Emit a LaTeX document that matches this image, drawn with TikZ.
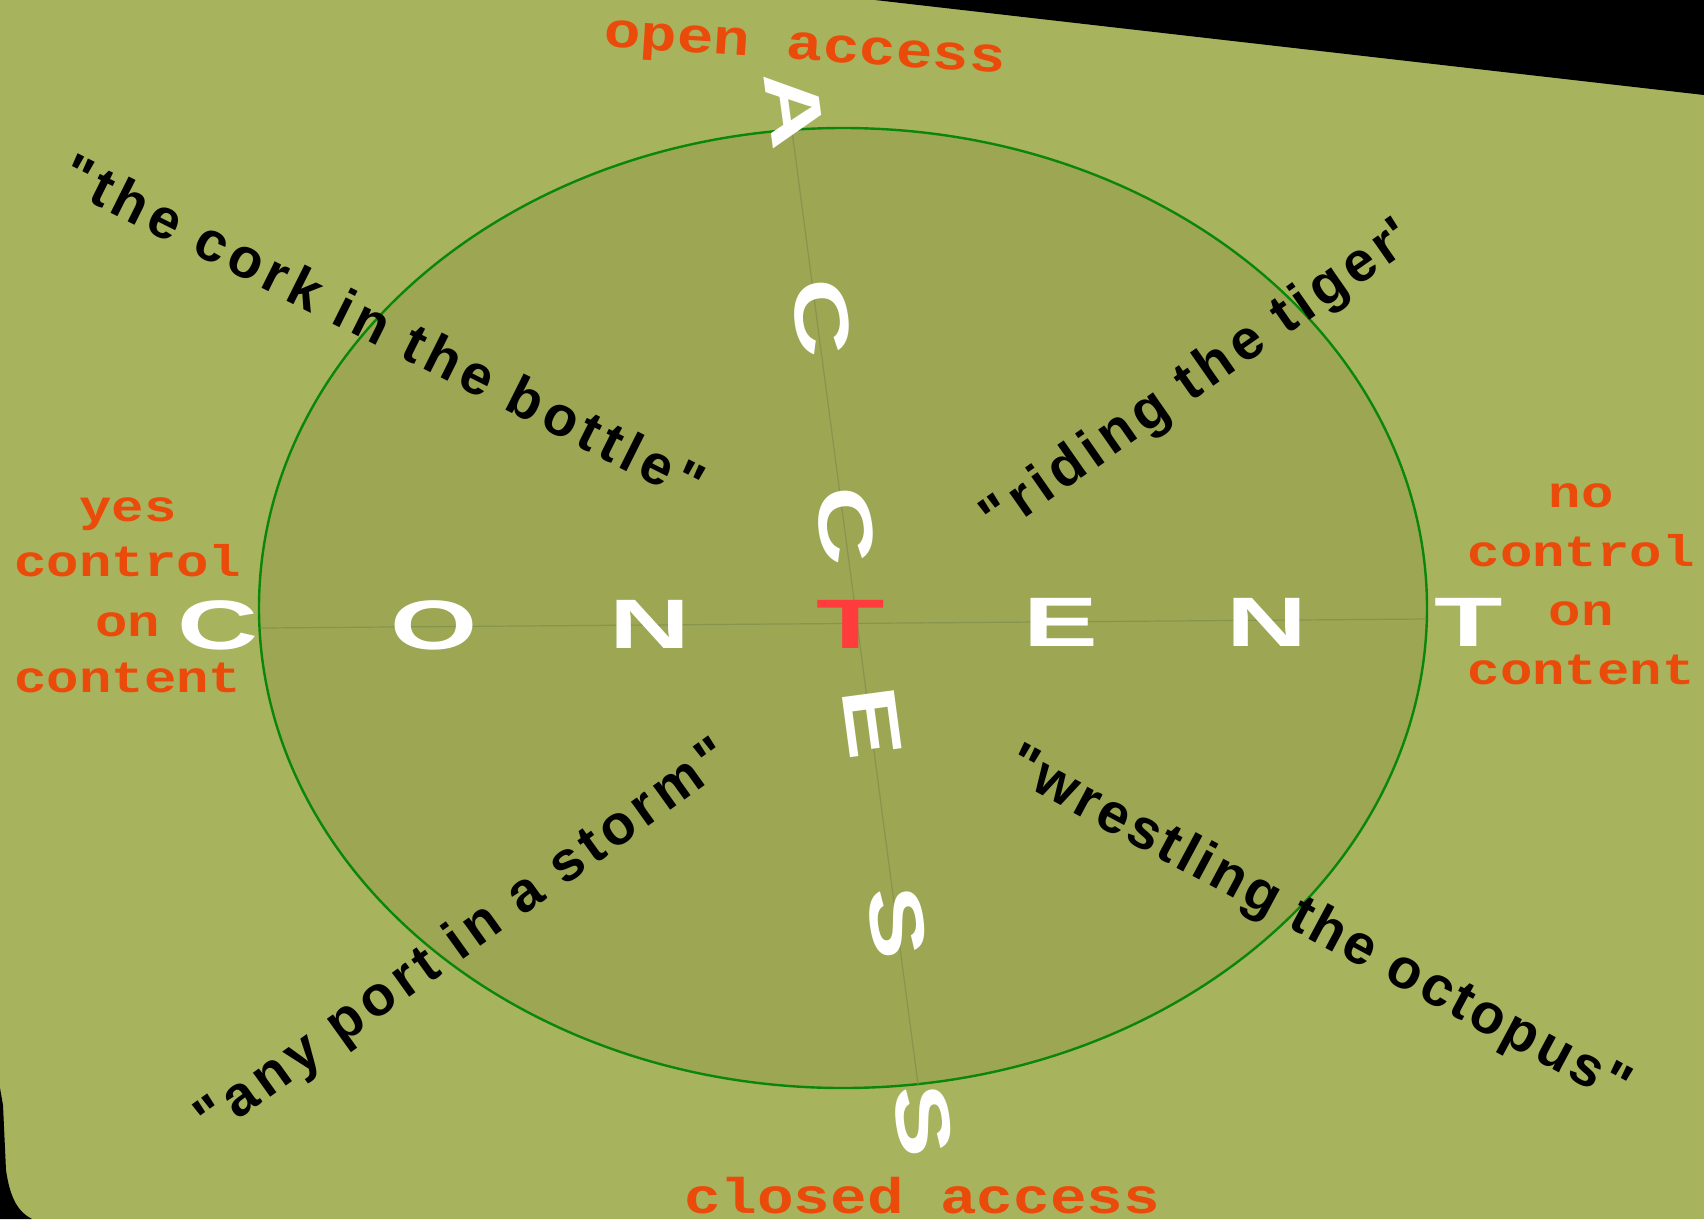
\documentclass[tikz,border=0pt]{standalone}
\usepackage{fontspec}
\setmainfont{Liberation Sans}
\newfontfamily\labelmono{Liberation Mono}
\newfontfamily\lettersans{Liberation Sans}
\usetikzlibrary{shapes.geometric}
\definecolor{bg}{RGB}{168,179,94}
\definecolor{ellfill}{RGB}{157,166,82}
\definecolor{ringgreen}{RGB}{10,135,10}
\definecolor{axisline}{RGB}{135,148,78}
\definecolor{labelorange}{RGB}{235,75,10}
\definecolor{centred}{RGB}{255,60,60}
\tikzset{
  bigletter/.style={text=white, inner sep=0pt, font=\lettersans\bfseries\fontsize{70}{70}\selectfont},
  vletter/.style={text=white, inner sep=0pt, rotate=-82.4, font=\lettersans\bfseries\fontsize{76}{76}\selectfont},
  sidelabel/.style={text=labelorange, inner sep=0pt, anchor=base, font=\labelmono\bfseries\fontsize{54}{54}\selectfont},
  endlabel/.style={text=labelorange, inner sep=0pt, anchor=base, font=\labelmono\bfseries\fontsize{61}{61}\selectfont},
  saying/.style={text=black, inner sep=0pt, anchor=base, font=\lettersans\bfseries\fontsize{56}{56}\selectfont},
  axis/.style={draw=axisline, line width=1.2pt},
}
\newcommand{\wideH}[1]{\scalebox{1.6}[1]{#1}}
\newcommand{\wideV}[1]{\scalebox{1.42}[1]{#1}}
\newcommand{\lowmono}[1]{\scalebox{1}[0.82]{#1}}
\begin{document}
\begin{tikzpicture}[x=1pt,y=-1pt]
\useasboundingbox (0,0) rectangle (1704,1219);
\fill[bg] (0,0) rectangle (1704,1219);
\fill[black] (875,0) -- (1704,0) -- (1704,95) -- cycle;
\fill[black] (0,1088) -- (3,1105) -- (6,1170) .. controls (10,1198) and (18,1212) .. (32,1219) -- (0,1219) -- cycle;

\node[ellipse, draw=ringgreen, fill=ellfill, line width=2.4pt, minimum width=1168pt, minimum height=960pt, inner sep=0pt] (ring) at (843,608) {};

\coordinate (hl) at (261,628);
\coordinate (hr) at (1426,619);
\coordinate (vt) at (792,131);
\coordinate (vb) at (918,1084);
\draw[axis] (hl) -- (hr);
\draw[axis] (vt) -- (vb);

% CONTENT
\node[bigletter] (c1) at (218,625) {\wideH{C}};
\node[bigletter] (c2) at (434,625) {\wideH{O}};
\node[bigletter] (c3) at (650,624) {\wideH{N}};
\node[bigletter, text=centred] (c4) at (851,624) {\wideH{T}};
\node[bigletter] (c5) at (1061,622) {\wideH{E}};
\node[bigletter] (c6) at (1267,622) {\wideH{N}};
\node[bigletter] (c7) at (1469,622) {\wideH{T}};

% ACCESS
\node[vletter] (a1) at (795,110) {\wideV{A}};
\node[vletter] (a2) at (822,318) {\wideV{C}};
\node[vletter] (a3) at (846,526) {\wideV{C}};
\node[vletter] (a4) at (872,723) {\wideV{E}};
\node[vletter] (a5) at (897,923) {\wideV{S}};
\node[vletter] (a6) at (923,1121) {\wideV{S}};

% side labels
\node[sidelabel] (ly) at (128,521.5) {\lowmono{yes}};
\node[sidelabel] (lc) at (128,576.5) {\lowmono{control}};
\node[sidelabel] (lo) at (128,636.5) {\lowmono{on}};
\node[sidelabel] (lt) at (128,692.5) {\lowmono{content}};
\node[sidelabel] (rn) at (1581,507.5) {\lowmono{no}};
\node[sidelabel] (rc) at (1581,566.5) {\lowmono{control}};
\node[sidelabel] (ro) at (1581,625.5) {\lowmono{on}};
\node[sidelabel] (rt) at (1581,684.5) {\lowmono{content}};

\node[endlabel, rotate=-3.8] (open) at (804,60) {\lowmono{open access}};
\node[endlabel] (closed) at (922,1213) {\lowmono{closed access}};

% sayings
\node[saying, rotate=-26.6] (q1) at (375,345) {\addfontfeatures{LetterSpace=10}"the cork in the bottle"};
\node[saying, rotate=34.9] (q2) at (1206,392) {\addfontfeatures{LetterSpace=10}"riding the tiger\textquotesingle};
\node[saying, rotate=35.6] (q3) at (473,952) {\addfontfeatures{LetterSpace=9.5}"any port in a storm"};
\node[saying, rotate=-28.2] (q4) at (1311,940) {\addfontfeatures{LetterSpace=6}"wrestling the octopus"};
\end{tikzpicture}
\end{document}
